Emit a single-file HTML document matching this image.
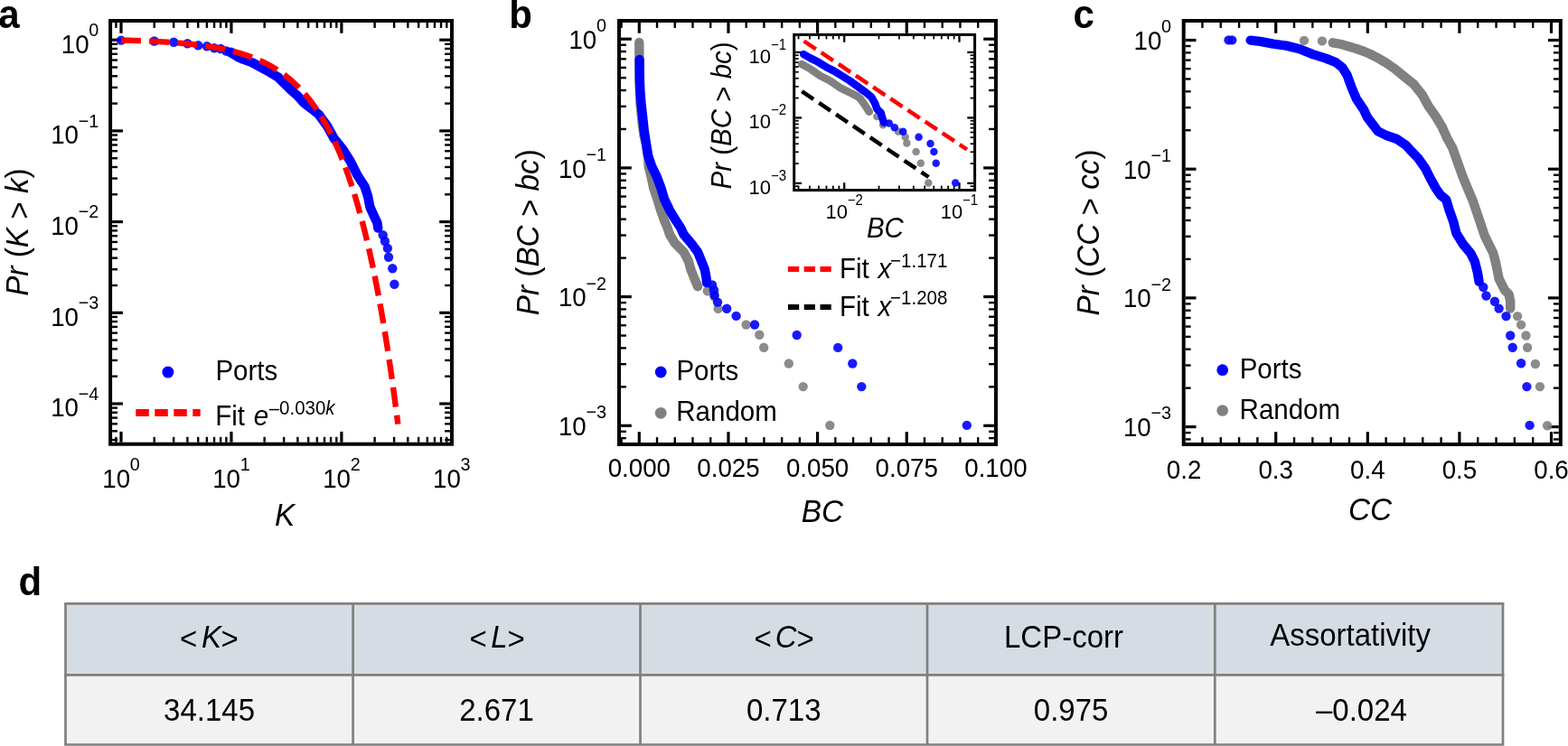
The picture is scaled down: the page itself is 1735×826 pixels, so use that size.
<!DOCTYPE html><html><head><meta charset="utf-8"><style>html,body{margin:0;padding:0;background:#fff;}svg{display:block;}</style></head><body>
<svg width="1735" height="826" viewBox="0 0 1735 826" font-family="'Liberation Sans', Arial, sans-serif">
<rect width="1735" height="826" fill="#fff"/>
<text x="-1.7" y="30.7" transform="matrix(1 0 0 1.041 0 -1.26)" font-size="42" font-weight="bold">a</text>
<text x="563.2" y="30.9" transform="matrix(1 0 0 1.041 0 -1.27)" font-size="42" font-weight="bold">b</text>
<text x="1187.4" y="30.7" transform="matrix(1 0 0 1.041 0 -1.26)" font-size="42" font-weight="bold">c</text>
<text x="20.5" y="659" transform="matrix(1 0 0 1.041 0 -27.02)" font-size="42" font-weight="bold">d</text>
<line x1="128.42" y1="489.7" x2="128.42" y2="483.8" stroke="#000" stroke-width="2.4" />
<line x1="128.42" y1="25" x2="128.42" y2="30.9" stroke="#000" stroke-width="2.4" />
<line x1="170.71" y1="489.7" x2="170.71" y2="483.8" stroke="#000" stroke-width="2.4" />
<line x1="170.71" y1="25" x2="170.71" y2="30.9" stroke="#000" stroke-width="2.4" />
<line x1="192.18" y1="489.7" x2="192.18" y2="483.8" stroke="#000" stroke-width="2.4" />
<line x1="192.18" y1="25" x2="192.18" y2="30.9" stroke="#000" stroke-width="2.4" />
<line x1="207.42" y1="489.7" x2="207.42" y2="483.8" stroke="#000" stroke-width="2.4" />
<line x1="207.42" y1="25" x2="207.42" y2="30.9" stroke="#000" stroke-width="2.4" />
<line x1="219.24" y1="489.7" x2="219.24" y2="483.8" stroke="#000" stroke-width="2.4" />
<line x1="219.24" y1="25" x2="219.24" y2="30.9" stroke="#000" stroke-width="2.4" />
<line x1="228.9" y1="489.7" x2="228.9" y2="483.8" stroke="#000" stroke-width="2.4" />
<line x1="228.9" y1="25" x2="228.9" y2="30.9" stroke="#000" stroke-width="2.4" />
<line x1="237.06" y1="489.7" x2="237.06" y2="483.8" stroke="#000" stroke-width="2.4" />
<line x1="237.06" y1="25" x2="237.06" y2="30.9" stroke="#000" stroke-width="2.4" />
<line x1="244.13" y1="489.7" x2="244.13" y2="483.8" stroke="#000" stroke-width="2.4" />
<line x1="244.13" y1="25" x2="244.13" y2="30.9" stroke="#000" stroke-width="2.4" />
<line x1="250.37" y1="489.7" x2="250.37" y2="483.8" stroke="#000" stroke-width="2.4" />
<line x1="250.37" y1="25" x2="250.37" y2="30.9" stroke="#000" stroke-width="2.4" />
<line x1="292.66" y1="489.7" x2="292.66" y2="483.8" stroke="#000" stroke-width="2.4" />
<line x1="292.66" y1="25" x2="292.66" y2="30.9" stroke="#000" stroke-width="2.4" />
<line x1="314.13" y1="489.7" x2="314.13" y2="483.8" stroke="#000" stroke-width="2.4" />
<line x1="314.13" y1="25" x2="314.13" y2="30.9" stroke="#000" stroke-width="2.4" />
<line x1="329.37" y1="489.7" x2="329.37" y2="483.8" stroke="#000" stroke-width="2.4" />
<line x1="329.37" y1="25" x2="329.37" y2="30.9" stroke="#000" stroke-width="2.4" />
<line x1="341.19" y1="489.7" x2="341.19" y2="483.8" stroke="#000" stroke-width="2.4" />
<line x1="341.19" y1="25" x2="341.19" y2="30.9" stroke="#000" stroke-width="2.4" />
<line x1="350.85" y1="489.7" x2="350.85" y2="483.8" stroke="#000" stroke-width="2.4" />
<line x1="350.85" y1="25" x2="350.85" y2="30.9" stroke="#000" stroke-width="2.4" />
<line x1="359.01" y1="489.7" x2="359.01" y2="483.8" stroke="#000" stroke-width="2.4" />
<line x1="359.01" y1="25" x2="359.01" y2="30.9" stroke="#000" stroke-width="2.4" />
<line x1="366.08" y1="489.7" x2="366.08" y2="483.8" stroke="#000" stroke-width="2.4" />
<line x1="366.08" y1="25" x2="366.08" y2="30.9" stroke="#000" stroke-width="2.4" />
<line x1="372.32" y1="489.7" x2="372.32" y2="483.8" stroke="#000" stroke-width="2.4" />
<line x1="372.32" y1="25" x2="372.32" y2="30.9" stroke="#000" stroke-width="2.4" />
<line x1="414.61" y1="489.7" x2="414.61" y2="483.8" stroke="#000" stroke-width="2.4" />
<line x1="414.61" y1="25" x2="414.61" y2="30.9" stroke="#000" stroke-width="2.4" />
<line x1="436.08" y1="489.7" x2="436.08" y2="483.8" stroke="#000" stroke-width="2.4" />
<line x1="436.08" y1="25" x2="436.08" y2="30.9" stroke="#000" stroke-width="2.4" />
<line x1="451.32" y1="489.7" x2="451.32" y2="483.8" stroke="#000" stroke-width="2.4" />
<line x1="451.32" y1="25" x2="451.32" y2="30.9" stroke="#000" stroke-width="2.4" />
<line x1="463.14" y1="489.7" x2="463.14" y2="483.8" stroke="#000" stroke-width="2.4" />
<line x1="463.14" y1="25" x2="463.14" y2="30.9" stroke="#000" stroke-width="2.4" />
<line x1="472.8" y1="489.7" x2="472.8" y2="483.8" stroke="#000" stroke-width="2.4" />
<line x1="472.8" y1="25" x2="472.8" y2="30.9" stroke="#000" stroke-width="2.4" />
<line x1="480.96" y1="489.7" x2="480.96" y2="483.8" stroke="#000" stroke-width="2.4" />
<line x1="480.96" y1="25" x2="480.96" y2="30.9" stroke="#000" stroke-width="2.4" />
<line x1="488.03" y1="489.7" x2="488.03" y2="483.8" stroke="#000" stroke-width="2.4" />
<line x1="488.03" y1="25" x2="488.03" y2="30.9" stroke="#000" stroke-width="2.4" />
<line x1="494.27" y1="489.7" x2="494.27" y2="483.8" stroke="#000" stroke-width="2.4" />
<line x1="494.27" y1="25" x2="494.27" y2="30.9" stroke="#000" stroke-width="2.4" />
<line x1="134" y1="489.7" x2="134" y2="477.9" stroke="#000" stroke-width="3.2" />
<line x1="134" y1="25" x2="134" y2="36.8" stroke="#000" stroke-width="3.2" />
<line x1="255.95" y1="489.7" x2="255.95" y2="477.9" stroke="#000" stroke-width="3.2" />
<line x1="255.95" y1="25" x2="255.95" y2="36.8" stroke="#000" stroke-width="3.2" />
<line x1="377.9" y1="489.7" x2="377.9" y2="477.9" stroke="#000" stroke-width="3.2" />
<line x1="377.9" y1="25" x2="377.9" y2="36.8" stroke="#000" stroke-width="3.2" />
<line x1="124.1" y1="114.59" x2="130" y2="114.59" stroke="#000" stroke-width="2.4" />
<line x1="498" y1="114.59" x2="492.1" y2="114.59" stroke="#000" stroke-width="2.4" />
<line x1="124.1" y1="96.85" x2="130" y2="96.85" stroke="#000" stroke-width="2.4" />
<line x1="498" y1="96.85" x2="492.1" y2="96.85" stroke="#000" stroke-width="2.4" />
<line x1="124.1" y1="84.27" x2="130" y2="84.27" stroke="#000" stroke-width="2.4" />
<line x1="498" y1="84.27" x2="492.1" y2="84.27" stroke="#000" stroke-width="2.4" />
<line x1="124.1" y1="74.51" x2="130" y2="74.51" stroke="#000" stroke-width="2.4" />
<line x1="498" y1="74.51" x2="492.1" y2="74.51" stroke="#000" stroke-width="2.4" />
<line x1="124.1" y1="66.54" x2="130" y2="66.54" stroke="#000" stroke-width="2.4" />
<line x1="498" y1="66.54" x2="492.1" y2="66.54" stroke="#000" stroke-width="2.4" />
<line x1="124.1" y1="59.8" x2="130" y2="59.8" stroke="#000" stroke-width="2.4" />
<line x1="498" y1="59.8" x2="492.1" y2="59.8" stroke="#000" stroke-width="2.4" />
<line x1="124.1" y1="53.96" x2="130" y2="53.96" stroke="#000" stroke-width="2.4" />
<line x1="498" y1="53.96" x2="492.1" y2="53.96" stroke="#000" stroke-width="2.4" />
<line x1="124.1" y1="48.81" x2="130" y2="48.81" stroke="#000" stroke-width="2.4" />
<line x1="498" y1="48.81" x2="492.1" y2="48.81" stroke="#000" stroke-width="2.4" />
<line x1="124.1" y1="215.29" x2="130" y2="215.29" stroke="#000" stroke-width="2.4" />
<line x1="498" y1="215.29" x2="492.1" y2="215.29" stroke="#000" stroke-width="2.4" />
<line x1="124.1" y1="197.55" x2="130" y2="197.55" stroke="#000" stroke-width="2.4" />
<line x1="498" y1="197.55" x2="492.1" y2="197.55" stroke="#000" stroke-width="2.4" />
<line x1="124.1" y1="184.97" x2="130" y2="184.97" stroke="#000" stroke-width="2.4" />
<line x1="498" y1="184.97" x2="492.1" y2="184.97" stroke="#000" stroke-width="2.4" />
<line x1="124.1" y1="175.21" x2="130" y2="175.21" stroke="#000" stroke-width="2.4" />
<line x1="498" y1="175.21" x2="492.1" y2="175.21" stroke="#000" stroke-width="2.4" />
<line x1="124.1" y1="167.24" x2="130" y2="167.24" stroke="#000" stroke-width="2.4" />
<line x1="498" y1="167.24" x2="492.1" y2="167.24" stroke="#000" stroke-width="2.4" />
<line x1="124.1" y1="160.5" x2="130" y2="160.5" stroke="#000" stroke-width="2.4" />
<line x1="498" y1="160.5" x2="492.1" y2="160.5" stroke="#000" stroke-width="2.4" />
<line x1="124.1" y1="154.66" x2="130" y2="154.66" stroke="#000" stroke-width="2.4" />
<line x1="498" y1="154.66" x2="492.1" y2="154.66" stroke="#000" stroke-width="2.4" />
<line x1="124.1" y1="149.51" x2="130" y2="149.51" stroke="#000" stroke-width="2.4" />
<line x1="498" y1="149.51" x2="492.1" y2="149.51" stroke="#000" stroke-width="2.4" />
<line x1="124.1" y1="315.99" x2="130" y2="315.99" stroke="#000" stroke-width="2.4" />
<line x1="498" y1="315.99" x2="492.1" y2="315.99" stroke="#000" stroke-width="2.4" />
<line x1="124.1" y1="298.25" x2="130" y2="298.25" stroke="#000" stroke-width="2.4" />
<line x1="498" y1="298.25" x2="492.1" y2="298.25" stroke="#000" stroke-width="2.4" />
<line x1="124.1" y1="285.67" x2="130" y2="285.67" stroke="#000" stroke-width="2.4" />
<line x1="498" y1="285.67" x2="492.1" y2="285.67" stroke="#000" stroke-width="2.4" />
<line x1="124.1" y1="275.91" x2="130" y2="275.91" stroke="#000" stroke-width="2.4" />
<line x1="498" y1="275.91" x2="492.1" y2="275.91" stroke="#000" stroke-width="2.4" />
<line x1="124.1" y1="267.94" x2="130" y2="267.94" stroke="#000" stroke-width="2.4" />
<line x1="498" y1="267.94" x2="492.1" y2="267.94" stroke="#000" stroke-width="2.4" />
<line x1="124.1" y1="261.2" x2="130" y2="261.2" stroke="#000" stroke-width="2.4" />
<line x1="498" y1="261.2" x2="492.1" y2="261.2" stroke="#000" stroke-width="2.4" />
<line x1="124.1" y1="255.36" x2="130" y2="255.36" stroke="#000" stroke-width="2.4" />
<line x1="498" y1="255.36" x2="492.1" y2="255.36" stroke="#000" stroke-width="2.4" />
<line x1="124.1" y1="250.21" x2="130" y2="250.21" stroke="#000" stroke-width="2.4" />
<line x1="498" y1="250.21" x2="492.1" y2="250.21" stroke="#000" stroke-width="2.4" />
<line x1="124.1" y1="416.69" x2="130" y2="416.69" stroke="#000" stroke-width="2.4" />
<line x1="498" y1="416.69" x2="492.1" y2="416.69" stroke="#000" stroke-width="2.4" />
<line x1="124.1" y1="398.95" x2="130" y2="398.95" stroke="#000" stroke-width="2.4" />
<line x1="498" y1="398.95" x2="492.1" y2="398.95" stroke="#000" stroke-width="2.4" />
<line x1="124.1" y1="386.37" x2="130" y2="386.37" stroke="#000" stroke-width="2.4" />
<line x1="498" y1="386.37" x2="492.1" y2="386.37" stroke="#000" stroke-width="2.4" />
<line x1="124.1" y1="376.61" x2="130" y2="376.61" stroke="#000" stroke-width="2.4" />
<line x1="498" y1="376.61" x2="492.1" y2="376.61" stroke="#000" stroke-width="2.4" />
<line x1="124.1" y1="368.64" x2="130" y2="368.64" stroke="#000" stroke-width="2.4" />
<line x1="498" y1="368.64" x2="492.1" y2="368.64" stroke="#000" stroke-width="2.4" />
<line x1="124.1" y1="361.9" x2="130" y2="361.9" stroke="#000" stroke-width="2.4" />
<line x1="498" y1="361.9" x2="492.1" y2="361.9" stroke="#000" stroke-width="2.4" />
<line x1="124.1" y1="356.06" x2="130" y2="356.06" stroke="#000" stroke-width="2.4" />
<line x1="498" y1="356.06" x2="492.1" y2="356.06" stroke="#000" stroke-width="2.4" />
<line x1="124.1" y1="350.91" x2="130" y2="350.91" stroke="#000" stroke-width="2.4" />
<line x1="498" y1="350.91" x2="492.1" y2="350.91" stroke="#000" stroke-width="2.4" />
<line x1="124.1" y1="487.07" x2="130" y2="487.07" stroke="#000" stroke-width="2.4" />
<line x1="498" y1="487.07" x2="492.1" y2="487.07" stroke="#000" stroke-width="2.4" />
<line x1="124.1" y1="477.31" x2="130" y2="477.31" stroke="#000" stroke-width="2.4" />
<line x1="498" y1="477.31" x2="492.1" y2="477.31" stroke="#000" stroke-width="2.4" />
<line x1="124.1" y1="469.34" x2="130" y2="469.34" stroke="#000" stroke-width="2.4" />
<line x1="498" y1="469.34" x2="492.1" y2="469.34" stroke="#000" stroke-width="2.4" />
<line x1="124.1" y1="462.6" x2="130" y2="462.6" stroke="#000" stroke-width="2.4" />
<line x1="498" y1="462.6" x2="492.1" y2="462.6" stroke="#000" stroke-width="2.4" />
<line x1="124.1" y1="456.76" x2="130" y2="456.76" stroke="#000" stroke-width="2.4" />
<line x1="498" y1="456.76" x2="492.1" y2="456.76" stroke="#000" stroke-width="2.4" />
<line x1="124.1" y1="451.61" x2="130" y2="451.61" stroke="#000" stroke-width="2.4" />
<line x1="498" y1="451.61" x2="492.1" y2="451.61" stroke="#000" stroke-width="2.4" />
<line x1="124.1" y1="44.2" x2="135.9" y2="44.2" stroke="#000" stroke-width="3.2" />
<line x1="498" y1="44.2" x2="486.2" y2="44.2" stroke="#000" stroke-width="3.2" />
<line x1="124.1" y1="144.9" x2="135.9" y2="144.9" stroke="#000" stroke-width="3.2" />
<line x1="498" y1="144.9" x2="486.2" y2="144.9" stroke="#000" stroke-width="3.2" />
<line x1="124.1" y1="245.6" x2="135.9" y2="245.6" stroke="#000" stroke-width="3.2" />
<line x1="498" y1="245.6" x2="486.2" y2="245.6" stroke="#000" stroke-width="3.2" />
<line x1="124.1" y1="346.3" x2="135.9" y2="346.3" stroke="#000" stroke-width="3.2" />
<line x1="498" y1="346.3" x2="486.2" y2="346.3" stroke="#000" stroke-width="3.2" />
<line x1="124.1" y1="447" x2="135.9" y2="447" stroke="#000" stroke-width="3.2" />
<line x1="498" y1="447" x2="486.2" y2="447" stroke="#000" stroke-width="3.2" />
<circle cx="134" cy="44.6" r="5.2" fill="#0000ff" fill-opacity="0.9"/>
<circle cx="170.71" cy="45.5" r="5.2" fill="#0000ff" fill-opacity="0.9"/>
<circle cx="192.18" cy="46.7" r="5.2" fill="#0000ff" fill-opacity="0.9"/>
<circle cx="207.42" cy="48.2" r="5.2" fill="#0000ff" fill-opacity="0.9"/>
<circle cx="219.24" cy="50.3" r="5.2" fill="#0000ff" fill-opacity="0.9"/>
<circle cx="228.9" cy="51.3" r="5.2" fill="#0000ff" fill-opacity="0.9"/>
<circle cx="237.06" cy="53.2" r="5.2" fill="#0000ff" fill-opacity="0.9"/>
<circle cx="244.13" cy="54" r="5.2" fill="#0000ff" fill-opacity="0.9"/>
<circle cx="250.37" cy="56.5" r="5.2" fill="#0000ff" fill-opacity="0.9"/>
<circle cx="255.95" cy="57.7" r="5.2" fill="#0000ff" fill-opacity="0.9"/>
<polyline points="254.5,57.9 259,60.3 263,62.9 269.1,65.7 278.8,69.1 288.4,74.4 298.1,79.7 307.8,85.5 315.6,93.3 322.4,100.1 329.1,105.9 335,112.7 339.5,116.5 346,121.5 352.6,126.6 362.3,139.9 369.6,153.2 379.3,165.3 387.7,178.6 395,193.2 403.5,206.5 407.1,217.4 409.5,229.5 414.4,240.4 417.4,246.5 418.3,252.5" fill="none" stroke="#0000ff" stroke-width="10.4" stroke-linecap="round" stroke-linejoin="round"/>
<circle cx="423.7" cy="260.2" r="5.2" fill="#0000ff" fill-opacity="0.9"/>
<circle cx="425.9" cy="267" r="5.2" fill="#0000ff" fill-opacity="0.9"/>
<circle cx="428.9" cy="274.9" r="5.2" fill="#0000ff" fill-opacity="0.9"/>
<circle cx="430" cy="284.7" r="5.2" fill="#0000ff" fill-opacity="0.9"/>
<circle cx="434.3" cy="297.2" r="5.2" fill="#0000ff" fill-opacity="0.9"/>
<circle cx="436.4" cy="314.7" r="5.2" fill="#0000ff" fill-opacity="0.9"/>
<path d="M134,44.51 L134.53,44.53 L135.05,44.54 L135.58,44.55 L136.11,44.57 L136.63,44.58 L137.16,44.59 L137.69,44.61 L138.22,44.62 L138.74,44.63 L139.27,44.65 L139.8,44.66 L140.32,44.68 L140.85,44.69 L141.38,44.71 L141.9,44.72 L142.43,44.74 L142.96,44.75 L143.49,44.77 L144.01,44.79 L144.54,44.8 L145.07,44.82 L145.59,44.83 L146.12,44.85 L146.65,44.87 L147.17,44.88 L147.7,44.9 L148.23,44.92 L148.76,44.93 L149.28,44.95 L149.81,44.97 L150.34,44.99 L150.86,45 L151.39,45.02 L151.92,45.04 L152.44,45.06 L152.97,45.08 L153.5,45.1 L154.03,45.11 L154.55,45.13 L155.08,45.15 L155.61,45.17 L156.13,45.19 L156.66,45.21 L157.19,45.23 L157.71,45.25 L158.24,45.27 L158.77,45.29 L159.3,45.32 L159.82,45.34 L160.35,45.36 L160.88,45.38 L161.4,45.4 L161.93,45.42 L162.46,45.45 L162.98,45.47 L163.51,45.49 L164.04,45.51 L164.57,45.54 L165.09,45.56 L165.62,45.58 L166.15,45.61 L166.67,45.63 L167.2,45.66 L167.73,45.68 L168.25,45.71 L168.78,45.73 L169.31,45.76 L169.84,45.78 L170.36,45.81 L170.89,45.83 L171.42,45.86 L171.94,45.89 L172.47,45.91 L173,45.94 L173.52,45.97 L174.05,45.99 L174.58,46.02 L175.11,46.05 L175.63,46.08 L176.16,46.11 L176.69,46.14 L177.21,46.17 L177.74,46.2 L178.27,46.23 L178.79,46.26 L179.32,46.29 L179.85,46.32 L180.38,46.35 L180.9,46.38 L181.43,46.41 L181.96,46.44 L182.48,46.48 L183.01,46.51 L183.54,46.54 L184.06,46.58 L184.59,46.61 L185.12,46.64 L185.65,46.68 L186.17,46.71 L186.7,46.75 L187.23,46.78 L187.75,46.82 L188.28,46.86 L188.81,46.89 L189.33,46.93 L189.86,46.97 L190.39,47 L190.92,47.04 L191.44,47.08 L191.97,47.12 L192.5,47.16 L193.02,47.2 L193.55,47.24 L194.08,47.28 L194.6,47.32 L195.13,47.36 L195.66,47.4 L196.19,47.44 L196.71,47.49 L197.24,47.53 L197.77,47.57 L198.29,47.62 L198.82,47.66 L199.35,47.71 L199.87,47.75 L200.4,47.8 L200.93,47.84 L201.45,47.89 L201.98,47.94 L202.51,47.98 L203.04,48.03 L203.56,48.08 L204.09,48.13 L204.62,48.18 L205.14,48.23 L205.67,48.28 L206.2,48.33 L206.72,48.38 L207.25,48.43 L207.78,48.48 L208.31,48.54 L208.83,48.59 L209.36,48.64 L209.89,48.7 L210.41,48.75 L210.94,48.81 L211.47,48.86 L211.99,48.92 L212.52,48.98 L213.05,49.04 L213.58,49.09 L214.1,49.15 L214.63,49.21 L215.16,49.27 L215.68,49.33 L216.21,49.4 L216.74,49.46 L217.26,49.52 L217.79,49.58 L218.32,49.65 L218.85,49.71 L219.37,49.78 L219.9,49.84 L220.43,49.91 L220.95,49.98 L221.48,50.04 L222.01,50.11 L222.53,50.18 L223.06,50.25 L223.59,50.32 L224.12,50.39 L224.64,50.46 L225.17,50.54 L225.7,50.61 L226.22,50.68 L226.75,50.76 L227.28,50.84 L227.8,50.91 L228.33,50.99 L228.86,51.07 L229.39,51.15 L229.91,51.22 L230.44,51.3 L230.97,51.39 L231.49,51.47 L232.02,51.55 L232.55,51.63 L233.07,51.72 L233.6,51.8 L234.13,51.89 L234.66,51.98 L235.18,52.06 L235.71,52.15 L236.24,52.24 L236.76,52.33 L237.29,52.42 L237.82,52.52 L238.34,52.61 L238.87,52.7 L239.4,52.8 L239.93,52.89 L240.45,52.99 L240.98,53.09 L241.51,53.19 L242.03,53.29 L242.56,53.39 L243.09,53.49 L243.61,53.59 L244.14,53.7 L244.67,53.8 L245.2,53.91 L245.72,54.02 L246.25,54.12 L246.78,54.23 L247.3,54.34 L247.83,54.46 L248.36,54.57 L248.88,54.68 L249.41,54.8 L249.94,54.91 L250.47,55.03 L250.99,55.15 L251.52,55.27 L252.05,55.39 L252.57,55.51 L253.1,55.63 L253.63,55.76 L254.15,55.88 L254.68,56.01 L255.21,56.14 L255.74,56.27 L256.26,56.4 L256.79,56.53 L257.32,56.66 L257.84,56.8 L258.37,56.93 L258.9,57.07 L259.42,57.21 L259.95,57.35 L260.48,57.49 L261,57.63 L261.53,57.78 L262.06,57.92 L262.59,58.07 L263.11,58.22 L263.64,58.37 L264.17,58.52 L264.69,58.68 L265.22,58.83 L265.75,58.99 L266.27,59.14 L266.8,59.3 L267.33,59.46 L267.86,59.63 L268.38,59.79 L268.91,59.96 L269.44,60.12 L269.96,60.29 L270.49,60.47 L271.02,60.64 L271.54,60.81 L272.07,60.99 L272.6,61.17 L273.13,61.35 L273.65,61.53 L274.18,61.71 L274.71,61.9 L275.23,62.08 L275.76,62.27 L276.29,62.46 L276.81,62.65 L277.34,62.85 L277.87,63.05 L278.4,63.24 L278.92,63.44 L279.45,63.65 L279.98,63.85 L280.5,64.06 L281.03,64.27 L281.56,64.48 L282.08,64.69 L282.61,64.91 L283.14,65.12 L283.67,65.34 L284.19,65.56 L284.72,65.79 L285.25,66.01 L285.77,66.24 L286.3,66.47 L286.83,66.7 L287.35,66.94 L287.88,67.18 L288.41,67.42 L288.94,67.66 L289.46,67.9 L289.99,68.15 L290.52,68.4 L291.04,68.65 L291.57,68.91 L292.1,69.16 L292.62,69.42 L293.15,69.68 L293.68,69.95 L294.21,70.22 L294.73,70.49 L295.26,70.76 L295.79,71.04 L296.31,71.31 L296.84,71.59 L297.37,71.88 L297.89,72.17 L298.42,72.46 L298.95,72.75 L299.48,73.04 L300,73.34 L300.53,73.64 L301.06,73.95 L301.58,74.26 L302.11,74.57 L302.64,74.88 L303.16,75.2 L303.69,75.52 L304.22,75.84 L304.75,76.17 L305.27,76.5 L305.8,76.83 L306.33,77.16 L306.85,77.5 L307.38,77.85 L307.91,78.19 L308.43,78.54 L308.96,78.9 L309.49,79.25 L310.02,79.61 L310.54,79.98 L311.07,80.35 L311.6,80.72 L312.12,81.09 L312.65,81.47 L313.18,81.85 L313.7,82.24 L314.23,82.63 L314.76,83.03 L315.29,83.42 L315.81,83.83 L316.34,84.23 L316.87,84.64 L317.39,85.06 L317.92,85.48 L318.45,85.9 L318.97,86.33 L319.5,86.76 L320.03,87.19 L320.56,87.63 L321.08,88.08 L321.61,88.53 L322.14,88.98 L322.66,89.44 L323.19,89.9 L323.72,90.37 L324.24,90.84 L324.77,91.31 L325.3,91.8 L325.82,92.28 L326.35,92.77 L326.88,93.27 L327.41,93.77 L327.93,94.27 L328.46,94.78 L328.99,95.3 L329.51,95.82 L330.04,96.35 L330.57,96.88 L331.09,97.42 L331.62,97.96 L332.15,98.51 L332.68,99.06 L333.2,99.62 L333.73,100.18 L334.26,100.75 L334.78,101.33 L335.31,101.91 L335.84,102.5 L336.36,103.09 L336.89,103.69 L337.42,104.29 L337.95,104.9 L338.47,105.52 L339,106.14 L339.53,106.77 L340.05,107.41 L340.58,108.05 L341.11,108.7 L341.63,109.35 L342.16,110.02 L342.69,110.68 L343.22,111.36 L343.74,112.04 L344.27,112.73 L344.8,113.42 L345.32,114.13 L345.85,114.84 L346.38,115.55 L346.9,116.28 L347.43,117.01 L347.96,117.74 L348.49,118.49 L349.01,119.24 L349.54,120 L350.07,120.77 L350.59,121.55 L351.12,122.33 L351.65,123.12 L352.17,123.92 L352.7,124.73 L353.23,125.54 L353.76,126.37 L354.28,127.2 L354.81,128.04 L355.34,128.89 L355.86,129.74 L356.39,130.61 L356.92,131.48 L357.44,132.37 L357.97,133.26 L358.5,134.16 L359.03,135.07 L359.55,135.99 L360.08,136.91 L360.61,137.85 L361.13,138.8 L361.66,139.75 L362.19,140.72 L362.71,141.69 L363.24,142.68 L363.77,143.67 L364.3,144.68 L364.82,145.69 L365.35,146.72 L365.88,147.75 L366.4,148.8 L366.93,149.86 L367.46,150.92 L367.98,152 L368.51,153.09 L369.04,154.19 L369.57,155.3 L370.09,156.42 L370.62,157.55 L371.15,158.69 L371.67,159.85 L372.2,161.01 L372.73,162.19 L373.25,163.38 L373.78,164.58 L374.31,165.8 L374.84,167.02 L375.36,168.26 L375.89,169.51 L376.42,170.78 L376.94,172.05 L377.47,173.34 L378,174.64 L378.52,175.96 L379.05,177.28 L379.58,178.62 L380.11,179.98 L380.63,181.35 L381.16,182.73 L381.69,184.12 L382.21,185.53 L382.74,186.96 L383.27,188.39 L383.79,189.84 L384.32,191.31 L384.85,192.79 L385.37,194.29 L385.9,195.8 L386.43,197.32 L386.96,198.87 L387.48,200.42 L388.01,202 L388.54,203.58 L389.06,205.19 L389.59,206.81 L390.12,208.44 L390.64,210.1 L391.17,211.76 L391.7,213.45 L392.23,215.15 L392.75,216.87 L393.28,218.61 L393.81,220.36 L394.33,222.13 L394.86,223.92 L395.39,225.73 L395.91,227.56 L396.44,229.4 L396.97,231.26 L397.5,233.14 L398.02,235.04 L398.55,236.96 L399.08,238.9 L399.6,240.85 L400.13,242.83 L400.66,244.83 L401.18,246.84 L401.71,248.88 L402.24,250.94 L402.77,253.01 L403.29,255.11 L403.82,257.23 L404.35,259.37 L404.87,261.53 L405.4,263.72 L405.93,265.92 L406.45,268.15 L406.98,270.4 L407.51,272.67 L408.04,274.97 L408.56,277.28 L409.09,279.62 L409.62,281.99 L410.14,284.38 L410.67,286.79 L411.2,289.22 L411.72,291.68 L412.25,294.17 L412.78,296.68 L413.31,299.21 L413.83,301.77 L414.36,304.36 L414.89,306.97 L415.41,309.61 L415.94,312.27 L416.47,314.96 L416.99,317.68 L417.52,320.43 L418.05,323.2 L418.58,326 L419.1,328.83 L419.63,331.68 L420.16,334.57 L420.68,337.48 L421.21,340.42 L421.74,343.4 L422.26,346.4 L422.79,349.43 L423.32,352.49 L423.85,355.59 L424.37,358.71 L424.9,361.86 L425.43,365.05 L425.95,368.27 L426.48,371.52 L427.01,374.8 L427.53,378.12 L428.06,381.47 L428.59,384.85 L429.12,388.27 L429.64,391.72 L430.17,395.2 L430.7,398.72 L431.22,402.28 L431.75,405.87 L432.28,409.5 L432.8,413.16 L433.33,416.86 L433.86,420.6 L434.39,424.37 L434.91,428.18 L435.44,432.03 L435.97,435.92 L436.49,439.85 L437.02,443.81 L437.55,447.82 L438.07,451.87 L438.6,455.95 L439.13,460.08 L439.66,464.25 L440.18,468.46 L440.32,469.6" fill="none" stroke="#ff0000" stroke-width="6.4" stroke-dasharray="22 9.2"/>
<rect x="122.1" y="23" width="377.9" height="468.7" fill="none" stroke="#000" stroke-width="4" stroke-linejoin="miter"/>
<text x="109.3" y="58.7" transform="matrix(1 0 0 1.041 0 -2.41)" text-anchor="end" font-size="27.7">10<tspan dx="-0.3" dy="-18.06" font-size="19.8">0</tspan></text>
<text x="109.3" y="159.4" transform="matrix(1 0 0 1.041 0 -6.54)" text-anchor="end" font-size="27.7">10<tspan dx="-0.3" dy="-18.06" font-size="19.8">−1</tspan></text>
<text x="109.3" y="260.1" transform="matrix(1 0 0 1.041 0 -10.66)" text-anchor="end" font-size="27.7">10<tspan dx="-0.3" dy="-18.06" font-size="19.8">−2</tspan></text>
<text x="109.3" y="360.8" transform="matrix(1 0 0 1.041 0 -14.79)" text-anchor="end" font-size="27.7">10<tspan dx="-0.3" dy="-18.06" font-size="19.8">−3</tspan></text>
<text x="109.3" y="461.5" transform="matrix(1 0 0 1.041 0 -18.92)" text-anchor="end" font-size="27.7">10<tspan dx="-0.3" dy="-18.06" font-size="19.8">−4</tspan></text>
<text x="134" y="539.7" transform="matrix(1 0 0 1.041 0 -22.13)" text-anchor="middle" font-size="27.7">10<tspan dx="-0.3" dy="-18.06" font-size="19.8">0</tspan></text>
<text x="255.95" y="539.7" transform="matrix(1 0 0 1.041 0 -22.13)" text-anchor="middle" font-size="27.7">10<tspan dx="-0.3" dy="-18.06" font-size="19.8">1</tspan></text>
<text x="377.9" y="539.7" transform="matrix(1 0 0 1.041 0 -22.13)" text-anchor="middle" font-size="27.7">10<tspan dx="-0.3" dy="-18.06" font-size="19.8">2</tspan></text>
<text x="499.85" y="539.7" transform="matrix(1 0 0 1.041 0 -22.13)" text-anchor="middle" font-size="27.7">10<tspan dx="-0.3" dy="-18.06" font-size="19.8">3</tspan></text>
<text x="315" y="582" transform="matrix(1 0 0 1.041 0 -23.86)" text-anchor="middle" font-size="33.3" font-style="italic">K</text>
<text transform="translate(31,257.1) rotate(-90) scale(1,1.041)" text-anchor="middle" font-size="33.3"><tspan font-style="italic">Pr</tspan> (<tspan font-style="italic">K</tspan> <tspan dy="1.92">&gt;</tspan> <tspan dy="-1.92" font-style="italic">k</tspan>)</text>
<circle cx="185.9" cy="412.1" r="6.5" fill="#0000ff"/>
<text x="238.4" y="421" transform="matrix(1 0 0 1.041 0 -17.26)" font-size="29.5">Ports</text>
<line x1="150.3" y1="457" x2="221.7" y2="457" stroke="#ff0000" stroke-width="8" stroke-dasharray="14.5 6.5"/>
<text x="238.3" y="471.5" transform="matrix(1 0 0 1.041 0 -19.33)" font-size="29.5">Fit <tspan dx="1.5" font-style="italic">e</tspan><tspan dx="0.5" dy="-12.2" font-size="20.5">–</tspan><tspan font-size="20.5">0.030</tspan><tspan font-size="20.5" font-style="italic">k</tspan></text>
<line x1="687.57" y1="490" x2="687.57" y2="484.1" stroke="#000" stroke-width="2.4" />
<line x1="687.57" y1="25" x2="687.57" y2="30.9" stroke="#000" stroke-width="2.4" />
<line x1="727.03" y1="490" x2="727.03" y2="484.1" stroke="#000" stroke-width="2.4" />
<line x1="727.03" y1="25" x2="727.03" y2="30.9" stroke="#000" stroke-width="2.4" />
<line x1="746.76" y1="490" x2="746.76" y2="484.1" stroke="#000" stroke-width="2.4" />
<line x1="746.76" y1="25" x2="746.76" y2="30.9" stroke="#000" stroke-width="2.4" />
<line x1="766.49" y1="490" x2="766.49" y2="484.1" stroke="#000" stroke-width="2.4" />
<line x1="766.49" y1="25" x2="766.49" y2="30.9" stroke="#000" stroke-width="2.4" />
<line x1="786.22" y1="490" x2="786.22" y2="484.1" stroke="#000" stroke-width="2.4" />
<line x1="786.22" y1="25" x2="786.22" y2="30.9" stroke="#000" stroke-width="2.4" />
<line x1="825.68" y1="490" x2="825.68" y2="484.1" stroke="#000" stroke-width="2.4" />
<line x1="825.68" y1="25" x2="825.68" y2="30.9" stroke="#000" stroke-width="2.4" />
<line x1="845.41" y1="490" x2="845.41" y2="484.1" stroke="#000" stroke-width="2.4" />
<line x1="845.41" y1="25" x2="845.41" y2="30.9" stroke="#000" stroke-width="2.4" />
<line x1="865.14" y1="490" x2="865.14" y2="484.1" stroke="#000" stroke-width="2.4" />
<line x1="865.14" y1="25" x2="865.14" y2="30.9" stroke="#000" stroke-width="2.4" />
<line x1="884.87" y1="490" x2="884.87" y2="484.1" stroke="#000" stroke-width="2.4" />
<line x1="884.87" y1="25" x2="884.87" y2="30.9" stroke="#000" stroke-width="2.4" />
<line x1="924.33" y1="490" x2="924.33" y2="484.1" stroke="#000" stroke-width="2.4" />
<line x1="924.33" y1="25" x2="924.33" y2="30.9" stroke="#000" stroke-width="2.4" />
<line x1="944.06" y1="490" x2="944.06" y2="484.1" stroke="#000" stroke-width="2.4" />
<line x1="944.06" y1="25" x2="944.06" y2="30.9" stroke="#000" stroke-width="2.4" />
<line x1="963.79" y1="490" x2="963.79" y2="484.1" stroke="#000" stroke-width="2.4" />
<line x1="963.79" y1="25" x2="963.79" y2="30.9" stroke="#000" stroke-width="2.4" />
<line x1="983.52" y1="490" x2="983.52" y2="484.1" stroke="#000" stroke-width="2.4" />
<line x1="983.52" y1="25" x2="983.52" y2="30.9" stroke="#000" stroke-width="2.4" />
<line x1="1022.98" y1="490" x2="1022.98" y2="484.1" stroke="#000" stroke-width="2.4" />
<line x1="1022.98" y1="25" x2="1022.98" y2="30.9" stroke="#000" stroke-width="2.4" />
<line x1="1042.71" y1="490" x2="1042.71" y2="484.1" stroke="#000" stroke-width="2.4" />
<line x1="1042.71" y1="25" x2="1042.71" y2="30.9" stroke="#000" stroke-width="2.4" />
<line x1="1062.44" y1="490" x2="1062.44" y2="484.1" stroke="#000" stroke-width="2.4" />
<line x1="1062.44" y1="25" x2="1062.44" y2="30.9" stroke="#000" stroke-width="2.4" />
<line x1="1082.17" y1="490" x2="1082.17" y2="484.1" stroke="#000" stroke-width="2.4" />
<line x1="1082.17" y1="25" x2="1082.17" y2="30.9" stroke="#000" stroke-width="2.4" />
<line x1="707.3" y1="490" x2="707.3" y2="478.2" stroke="#000" stroke-width="3.2" />
<line x1="707.3" y1="25" x2="707.3" y2="36.8" stroke="#000" stroke-width="3.2" />
<line x1="805.95" y1="490" x2="805.95" y2="478.2" stroke="#000" stroke-width="3.2" />
<line x1="805.95" y1="25" x2="805.95" y2="36.8" stroke="#000" stroke-width="3.2" />
<line x1="904.6" y1="490" x2="904.6" y2="478.2" stroke="#000" stroke-width="3.2" />
<line x1="904.6" y1="25" x2="904.6" y2="36.8" stroke="#000" stroke-width="3.2" />
<line x1="1003.25" y1="490" x2="1003.25" y2="478.2" stroke="#000" stroke-width="3.2" />
<line x1="1003.25" y1="25" x2="1003.25" y2="36.8" stroke="#000" stroke-width="3.2" />
<line x1="687" y1="142.94" x2="692.9" y2="142.94" stroke="#000" stroke-width="2.4" />
<line x1="1100" y1="142.94" x2="1094.1" y2="142.94" stroke="#000" stroke-width="2.4" />
<line x1="687" y1="117.81" x2="692.9" y2="117.81" stroke="#000" stroke-width="2.4" />
<line x1="1100" y1="117.81" x2="1094.1" y2="117.81" stroke="#000" stroke-width="2.4" />
<line x1="687" y1="99.99" x2="692.9" y2="99.99" stroke="#000" stroke-width="2.4" />
<line x1="1100" y1="99.99" x2="1094.1" y2="99.99" stroke="#000" stroke-width="2.4" />
<line x1="687" y1="86.16" x2="692.9" y2="86.16" stroke="#000" stroke-width="2.4" />
<line x1="1100" y1="86.16" x2="1094.1" y2="86.16" stroke="#000" stroke-width="2.4" />
<line x1="687" y1="74.86" x2="692.9" y2="74.86" stroke="#000" stroke-width="2.4" />
<line x1="1100" y1="74.86" x2="1094.1" y2="74.86" stroke="#000" stroke-width="2.4" />
<line x1="687" y1="65.3" x2="692.9" y2="65.3" stroke="#000" stroke-width="2.4" />
<line x1="1100" y1="65.3" x2="1094.1" y2="65.3" stroke="#000" stroke-width="2.4" />
<line x1="687" y1="57.03" x2="692.9" y2="57.03" stroke="#000" stroke-width="2.4" />
<line x1="1100" y1="57.03" x2="1094.1" y2="57.03" stroke="#000" stroke-width="2.4" />
<line x1="687" y1="49.73" x2="692.9" y2="49.73" stroke="#000" stroke-width="2.4" />
<line x1="1100" y1="49.73" x2="1094.1" y2="49.73" stroke="#000" stroke-width="2.4" />
<line x1="687" y1="285.64" x2="692.9" y2="285.64" stroke="#000" stroke-width="2.4" />
<line x1="1100" y1="285.64" x2="1094.1" y2="285.64" stroke="#000" stroke-width="2.4" />
<line x1="687" y1="260.51" x2="692.9" y2="260.51" stroke="#000" stroke-width="2.4" />
<line x1="1100" y1="260.51" x2="1094.1" y2="260.51" stroke="#000" stroke-width="2.4" />
<line x1="687" y1="242.69" x2="692.9" y2="242.69" stroke="#000" stroke-width="2.4" />
<line x1="1100" y1="242.69" x2="1094.1" y2="242.69" stroke="#000" stroke-width="2.4" />
<line x1="687" y1="228.86" x2="692.9" y2="228.86" stroke="#000" stroke-width="2.4" />
<line x1="1100" y1="228.86" x2="1094.1" y2="228.86" stroke="#000" stroke-width="2.4" />
<line x1="687" y1="217.56" x2="692.9" y2="217.56" stroke="#000" stroke-width="2.4" />
<line x1="1100" y1="217.56" x2="1094.1" y2="217.56" stroke="#000" stroke-width="2.4" />
<line x1="687" y1="208" x2="692.9" y2="208" stroke="#000" stroke-width="2.4" />
<line x1="1100" y1="208" x2="1094.1" y2="208" stroke="#000" stroke-width="2.4" />
<line x1="687" y1="199.73" x2="692.9" y2="199.73" stroke="#000" stroke-width="2.4" />
<line x1="1100" y1="199.73" x2="1094.1" y2="199.73" stroke="#000" stroke-width="2.4" />
<line x1="687" y1="192.43" x2="692.9" y2="192.43" stroke="#000" stroke-width="2.4" />
<line x1="1100" y1="192.43" x2="1094.1" y2="192.43" stroke="#000" stroke-width="2.4" />
<line x1="687" y1="428.34" x2="692.9" y2="428.34" stroke="#000" stroke-width="2.4" />
<line x1="1100" y1="428.34" x2="1094.1" y2="428.34" stroke="#000" stroke-width="2.4" />
<line x1="687" y1="403.21" x2="692.9" y2="403.21" stroke="#000" stroke-width="2.4" />
<line x1="1100" y1="403.21" x2="1094.1" y2="403.21" stroke="#000" stroke-width="2.4" />
<line x1="687" y1="385.39" x2="692.9" y2="385.39" stroke="#000" stroke-width="2.4" />
<line x1="1100" y1="385.39" x2="1094.1" y2="385.39" stroke="#000" stroke-width="2.4" />
<line x1="687" y1="371.56" x2="692.9" y2="371.56" stroke="#000" stroke-width="2.4" />
<line x1="1100" y1="371.56" x2="1094.1" y2="371.56" stroke="#000" stroke-width="2.4" />
<line x1="687" y1="360.26" x2="692.9" y2="360.26" stroke="#000" stroke-width="2.4" />
<line x1="1100" y1="360.26" x2="1094.1" y2="360.26" stroke="#000" stroke-width="2.4" />
<line x1="687" y1="350.7" x2="692.9" y2="350.7" stroke="#000" stroke-width="2.4" />
<line x1="1100" y1="350.7" x2="1094.1" y2="350.7" stroke="#000" stroke-width="2.4" />
<line x1="687" y1="342.43" x2="692.9" y2="342.43" stroke="#000" stroke-width="2.4" />
<line x1="1100" y1="342.43" x2="1094.1" y2="342.43" stroke="#000" stroke-width="2.4" />
<line x1="687" y1="335.13" x2="692.9" y2="335.13" stroke="#000" stroke-width="2.4" />
<line x1="1100" y1="335.13" x2="1094.1" y2="335.13" stroke="#000" stroke-width="2.4" />
<line x1="687" y1="485.13" x2="692.9" y2="485.13" stroke="#000" stroke-width="2.4" />
<line x1="1100" y1="485.13" x2="1094.1" y2="485.13" stroke="#000" stroke-width="2.4" />
<line x1="687" y1="477.83" x2="692.9" y2="477.83" stroke="#000" stroke-width="2.4" />
<line x1="1100" y1="477.83" x2="1094.1" y2="477.83" stroke="#000" stroke-width="2.4" />
<line x1="687" y1="43.2" x2="698.8" y2="43.2" stroke="#000" stroke-width="3.2" />
<line x1="1100" y1="43.2" x2="1088.2" y2="43.2" stroke="#000" stroke-width="3.2" />
<line x1="687" y1="185.9" x2="698.8" y2="185.9" stroke="#000" stroke-width="3.2" />
<line x1="1100" y1="185.9" x2="1088.2" y2="185.9" stroke="#000" stroke-width="3.2" />
<line x1="687" y1="328.6" x2="698.8" y2="328.6" stroke="#000" stroke-width="3.2" />
<line x1="1100" y1="328.6" x2="1088.2" y2="328.6" stroke="#000" stroke-width="3.2" />
<line x1="687" y1="471.3" x2="698.8" y2="471.3" stroke="#000" stroke-width="3.2" />
<line x1="1100" y1="471.3" x2="1088.2" y2="471.3" stroke="#000" stroke-width="3.2" />
<polyline points="707.3,47 707.5,90 708.5,115 710.5,135 712.5,150 715.1,160 717,172 717.7,184.2 720.7,196.3 723.2,208.4 727.4,220.5 731,232.6 735.3,244.7 738.5,252 741,259.7 747,269.4 756.6,279.1 761.7,288.7 764.4,298.4 768.2,308.1 772.1,317.3" fill="none" stroke="#808080" stroke-width="10.4" stroke-linecap="round" stroke-linejoin="round"/>
<circle cx="782.8" cy="322.2" r="5.2" fill="#808080" fill-opacity="0.9"/>
<circle cx="790.6" cy="328.6" r="5.2" fill="#808080" fill-opacity="0.9"/>
<circle cx="794.6" cy="341.9" r="5.2" fill="#808080" fill-opacity="0.9"/>
<circle cx="825.6" cy="359.5" r="5.2" fill="#808080" fill-opacity="0.9"/>
<circle cx="840.3" cy="370.8" r="5.2" fill="#808080" fill-opacity="0.9"/>
<circle cx="845.2" cy="384.8" r="5.2" fill="#808080" fill-opacity="0.9"/>
<circle cx="872.8" cy="402.5" r="5.2" fill="#808080" fill-opacity="0.9"/>
<circle cx="888.7" cy="428.1" r="5.2" fill="#808080" fill-opacity="0.9"/>
<circle cx="918.3" cy="471" r="5.2" fill="#808080" fill-opacity="0.9"/>
<polyline points="707.6,66 707.9,88.5 708.3,100 709.5,114.5 711.2,130 712.8,145 715.1,160 717,172.1 721.2,184.2 727,196.3 731.5,208.4 735.1,220.5 740.9,232.6 748.2,244.7 753,252 756.6,259.7 764.8,269.4 772.1,279.1 776,288.7 779.8,298.4 781.6,308.1 782,313" fill="none" stroke="#0000ff" stroke-width="10.4" stroke-linecap="round" stroke-linejoin="round"/>
<circle cx="788.1" cy="315.4" r="5.2" fill="#0000ff" fill-opacity="0.9"/>
<circle cx="790" cy="321.2" r="5.2" fill="#0000ff" fill-opacity="0.9"/>
<circle cx="790.5" cy="326.8" r="5.2" fill="#0000ff" fill-opacity="0.9"/>
<circle cx="794" cy="334.6" r="5.2" fill="#0000ff" fill-opacity="0.9"/>
<circle cx="804.2" cy="341.7" r="5.2" fill="#0000ff" fill-opacity="0.9"/>
<circle cx="814.6" cy="349.9" r="5.2" fill="#0000ff" fill-opacity="0.9"/>
<circle cx="835" cy="359.5" r="5.2" fill="#0000ff" fill-opacity="0.9"/>
<circle cx="881.7" cy="371" r="5.2" fill="#0000ff" fill-opacity="0.9"/>
<circle cx="927.2" cy="384.9" r="5.2" fill="#0000ff" fill-opacity="0.9"/>
<circle cx="943.3" cy="402.5" r="5.2" fill="#0000ff" fill-opacity="0.9"/>
<circle cx="953.3" cy="428.1" r="5.2" fill="#0000ff" fill-opacity="0.9"/>
<circle cx="1069.8" cy="470.9" r="5.2" fill="#0000ff" fill-opacity="0.9"/>
<rect x="685" y="23" width="417" height="469" fill="none" stroke="#000" stroke-width="4" stroke-linejoin="miter"/>
<text x="671" y="54.1" transform="matrix(1 0 0 1.041 0 -2.22)" text-anchor="end" font-size="27.7">10<tspan dx="-0.3" dy="-18.06" font-size="19.8">0</tspan></text>
<text x="671" y="196.8" transform="matrix(1 0 0 1.041 0 -8.07)" text-anchor="end" font-size="27.7">10<tspan dx="-0.3" dy="-18.06" font-size="19.8">−1</tspan></text>
<text x="671" y="339.5" transform="matrix(1 0 0 1.041 0 -13.92)" text-anchor="end" font-size="27.7">10<tspan dx="-0.3" dy="-18.06" font-size="19.8">−2</tspan></text>
<text x="671" y="482.2" transform="matrix(1 0 0 1.041 0 -19.77)" text-anchor="end" font-size="27.7">10<tspan dx="-0.3" dy="-18.06" font-size="19.8">−3</tspan></text>
<text x="707.3" y="528" transform="matrix(1 0 0 1.041 0 -21.65)" text-anchor="middle" font-size="27.7">0.000</text>
<text x="805.95" y="528" transform="matrix(1 0 0 1.041 0 -21.65)" text-anchor="middle" font-size="27.7">0.025</text>
<text x="904.6" y="528" transform="matrix(1 0 0 1.041 0 -21.65)" text-anchor="middle" font-size="27.7">0.050</text>
<text x="1003.25" y="528" transform="matrix(1 0 0 1.041 0 -21.65)" text-anchor="middle" font-size="27.7">0.075</text>
<text x="1101.9" y="528" transform="matrix(1 0 0 1.041 0 -21.65)" text-anchor="middle" font-size="27.7">0.100</text>
<text x="910" y="577.8" transform="matrix(1 0 0 1.041 0 -23.69)" text-anchor="middle" font-size="33.3" font-style="italic">BC</text>
<text transform="translate(596,257.2) rotate(-90) scale(1,1.041)" text-anchor="middle" font-size="33.3"><tspan font-style="italic">Pr</tspan> (<tspan font-style="italic">BC</tspan> <tspan dy="1.92">&gt;</tspan> <tspan dy="-1.92" font-style="italic">bc</tspan>)</text>
<circle cx="731.2" cy="412" r="6.4" fill="#0000ff"/>
<text x="748.4" y="421.3" transform="matrix(1 0 0 1.041 0 -17.27)" font-size="29.5">Ports</text>
<circle cx="731.2" cy="457.3" r="6.4" fill="#808080"/>
<text x="748.3" y="465.8" transform="matrix(1 0 0 1.041 0 -19.1)" font-size="29.5">Random</text>
<line x1="871.9" y1="298" x2="919.7" y2="298" stroke="#ff0000" stroke-width="5.8" stroke-dasharray="12.3 5.5"/>
<line x1="871.9" y1="339.9" x2="919.7" y2="339.9" stroke="#000" stroke-width="6" stroke-dasharray="12.3 5.5"/>
<text x="928.9" y="308.3" transform="matrix(1 0 0 1.041 0 -12.64)" font-size="29.5">Fit <tspan dx="1.7" font-style="italic">x</tspan><tspan dx="-1.2" dy="-11.91" font-size="20.5">−1.171</tspan></text>
<text x="928.9" y="349.8" transform="matrix(1 0 0 1.041 0 -14.34)" font-size="29.5">Fit <tspan dx="1.7" font-style="italic">x</tspan><tspan dx="-1.2" dy="-11.91" font-size="20.5">−1.208</tspan></text>
<rect x="878.7" y="38.4" width="199.9" height="172.2" fill="#fff" stroke="none"/>
<line x1="883.54" y1="209.1" x2="883.54" y2="205.6" stroke="#000" stroke-width="1.8" />
<line x1="883.54" y1="39.9" x2="883.54" y2="43.4" stroke="#000" stroke-width="1.8" />
<line x1="895.88" y1="209.1" x2="895.88" y2="205.6" stroke="#000" stroke-width="1.8" />
<line x1="895.88" y1="39.9" x2="895.88" y2="43.4" stroke="#000" stroke-width="1.8" />
<line x1="905.96" y1="209.1" x2="905.96" y2="205.6" stroke="#000" stroke-width="1.8" />
<line x1="905.96" y1="39.9" x2="905.96" y2="43.4" stroke="#000" stroke-width="1.8" />
<line x1="914.48" y1="209.1" x2="914.48" y2="205.6" stroke="#000" stroke-width="1.8" />
<line x1="914.48" y1="39.9" x2="914.48" y2="43.4" stroke="#000" stroke-width="1.8" />
<line x1="921.86" y1="209.1" x2="921.86" y2="205.6" stroke="#000" stroke-width="1.8" />
<line x1="921.86" y1="39.9" x2="921.86" y2="43.4" stroke="#000" stroke-width="1.8" />
<line x1="928.38" y1="209.1" x2="928.38" y2="205.6" stroke="#000" stroke-width="1.8" />
<line x1="928.38" y1="39.9" x2="928.38" y2="43.4" stroke="#000" stroke-width="1.8" />
<line x1="972.52" y1="209.1" x2="972.52" y2="205.6" stroke="#000" stroke-width="1.8" />
<line x1="972.52" y1="39.9" x2="972.52" y2="43.4" stroke="#000" stroke-width="1.8" />
<line x1="994.94" y1="209.1" x2="994.94" y2="205.6" stroke="#000" stroke-width="1.8" />
<line x1="994.94" y1="39.9" x2="994.94" y2="43.4" stroke="#000" stroke-width="1.8" />
<line x1="1010.84" y1="209.1" x2="1010.84" y2="205.6" stroke="#000" stroke-width="1.8" />
<line x1="1010.84" y1="39.9" x2="1010.84" y2="43.4" stroke="#000" stroke-width="1.8" />
<line x1="1023.18" y1="209.1" x2="1023.18" y2="205.6" stroke="#000" stroke-width="1.8" />
<line x1="1023.18" y1="39.9" x2="1023.18" y2="43.4" stroke="#000" stroke-width="1.8" />
<line x1="1033.26" y1="209.1" x2="1033.26" y2="205.6" stroke="#000" stroke-width="1.8" />
<line x1="1033.26" y1="39.9" x2="1033.26" y2="43.4" stroke="#000" stroke-width="1.8" />
<line x1="1041.78" y1="209.1" x2="1041.78" y2="205.6" stroke="#000" stroke-width="1.8" />
<line x1="1041.78" y1="39.9" x2="1041.78" y2="43.4" stroke="#000" stroke-width="1.8" />
<line x1="1049.16" y1="209.1" x2="1049.16" y2="205.6" stroke="#000" stroke-width="1.8" />
<line x1="1049.16" y1="39.9" x2="1049.16" y2="43.4" stroke="#000" stroke-width="1.8" />
<line x1="1055.68" y1="209.1" x2="1055.68" y2="205.6" stroke="#000" stroke-width="1.8" />
<line x1="1055.68" y1="39.9" x2="1055.68" y2="43.4" stroke="#000" stroke-width="1.8" />
<line x1="934.2" y1="209.1" x2="934.2" y2="202.3" stroke="#000" stroke-width="2.3" />
<line x1="934.2" y1="39.9" x2="934.2" y2="46.7" stroke="#000" stroke-width="2.3" />
<line x1="1061.5" y1="209.1" x2="1061.5" y2="202.3" stroke="#000" stroke-width="2.3" />
<line x1="1061.5" y1="39.9" x2="1061.5" y2="46.7" stroke="#000" stroke-width="2.3" />
<line x1="880.2" y1="108.58" x2="883.7" y2="108.58" stroke="#000" stroke-width="1.8" />
<line x1="1077.1" y1="108.58" x2="1073.6" y2="108.58" stroke="#000" stroke-width="1.8" />
<line x1="880.2" y1="95.81" x2="883.7" y2="95.81" stroke="#000" stroke-width="1.8" />
<line x1="1077.1" y1="95.81" x2="1073.6" y2="95.81" stroke="#000" stroke-width="1.8" />
<line x1="880.2" y1="86.75" x2="883.7" y2="86.75" stroke="#000" stroke-width="1.8" />
<line x1="1077.1" y1="86.75" x2="1073.6" y2="86.75" stroke="#000" stroke-width="1.8" />
<line x1="880.2" y1="79.72" x2="883.7" y2="79.72" stroke="#000" stroke-width="1.8" />
<line x1="1077.1" y1="79.72" x2="1073.6" y2="79.72" stroke="#000" stroke-width="1.8" />
<line x1="880.2" y1="73.98" x2="883.7" y2="73.98" stroke="#000" stroke-width="1.8" />
<line x1="1077.1" y1="73.98" x2="1073.6" y2="73.98" stroke="#000" stroke-width="1.8" />
<line x1="880.2" y1="69.13" x2="883.7" y2="69.13" stroke="#000" stroke-width="1.8" />
<line x1="1077.1" y1="69.13" x2="1073.6" y2="69.13" stroke="#000" stroke-width="1.8" />
<line x1="880.2" y1="64.93" x2="883.7" y2="64.93" stroke="#000" stroke-width="1.8" />
<line x1="1077.1" y1="64.93" x2="1073.6" y2="64.93" stroke="#000" stroke-width="1.8" />
<line x1="880.2" y1="61.22" x2="883.7" y2="61.22" stroke="#000" stroke-width="1.8" />
<line x1="1077.1" y1="61.22" x2="1073.6" y2="61.22" stroke="#000" stroke-width="1.8" />
<line x1="880.2" y1="181.08" x2="883.7" y2="181.08" stroke="#000" stroke-width="1.8" />
<line x1="1077.1" y1="181.08" x2="1073.6" y2="181.08" stroke="#000" stroke-width="1.8" />
<line x1="880.2" y1="168.31" x2="883.7" y2="168.31" stroke="#000" stroke-width="1.8" />
<line x1="1077.1" y1="168.31" x2="1073.6" y2="168.31" stroke="#000" stroke-width="1.8" />
<line x1="880.2" y1="159.25" x2="883.7" y2="159.25" stroke="#000" stroke-width="1.8" />
<line x1="1077.1" y1="159.25" x2="1073.6" y2="159.25" stroke="#000" stroke-width="1.8" />
<line x1="880.2" y1="152.22" x2="883.7" y2="152.22" stroke="#000" stroke-width="1.8" />
<line x1="1077.1" y1="152.22" x2="1073.6" y2="152.22" stroke="#000" stroke-width="1.8" />
<line x1="880.2" y1="146.48" x2="883.7" y2="146.48" stroke="#000" stroke-width="1.8" />
<line x1="1077.1" y1="146.48" x2="1073.6" y2="146.48" stroke="#000" stroke-width="1.8" />
<line x1="880.2" y1="141.63" x2="883.7" y2="141.63" stroke="#000" stroke-width="1.8" />
<line x1="1077.1" y1="141.63" x2="1073.6" y2="141.63" stroke="#000" stroke-width="1.8" />
<line x1="880.2" y1="137.43" x2="883.7" y2="137.43" stroke="#000" stroke-width="1.8" />
<line x1="1077.1" y1="137.43" x2="1073.6" y2="137.43" stroke="#000" stroke-width="1.8" />
<line x1="880.2" y1="133.72" x2="883.7" y2="133.72" stroke="#000" stroke-width="1.8" />
<line x1="1077.1" y1="133.72" x2="1073.6" y2="133.72" stroke="#000" stroke-width="1.8" />
<line x1="880.2" y1="206.22" x2="883.7" y2="206.22" stroke="#000" stroke-width="1.8" />
<line x1="1077.1" y1="206.22" x2="1073.6" y2="206.22" stroke="#000" stroke-width="1.8" />
<line x1="880.2" y1="57.9" x2="887" y2="57.9" stroke="#000" stroke-width="2.3" />
<line x1="1077.1" y1="57.9" x2="1070.3" y2="57.9" stroke="#000" stroke-width="2.3" />
<line x1="880.2" y1="130.4" x2="887" y2="130.4" stroke="#000" stroke-width="2.3" />
<line x1="1077.1" y1="130.4" x2="1070.3" y2="130.4" stroke="#000" stroke-width="2.3" />
<line x1="880.2" y1="202.9" x2="887" y2="202.9" stroke="#000" stroke-width="2.3" />
<line x1="1077.1" y1="202.9" x2="1070.3" y2="202.9" stroke="#000" stroke-width="2.3" />
<polyline points="887,71 896.8,76.4 907.7,84 918.6,89.5 929.5,97.1 940.4,102.5 949.1,106.9 952.5,110 956.8,116.2 961.9,123.8" fill="none" stroke="#808080" stroke-width="8.5" stroke-linecap="round" stroke-linejoin="round"/>
<circle cx="970.3" cy="128.9" r="4.25" fill="#808080" fill-opacity="0.9"/>
<circle cx="977.1" cy="138.2" r="4.25" fill="#808080" fill-opacity="0.9"/>
<circle cx="994.1" cy="145.8" r="4.25" fill="#808080" fill-opacity="0.9"/>
<circle cx="1001.7" cy="151.8" r="4.25" fill="#808080" fill-opacity="0.9"/>
<circle cx="1003.4" cy="158.6" r="4.25" fill="#808080" fill-opacity="0.9"/>
<circle cx="1013.6" cy="168" r="4.25" fill="#808080" fill-opacity="0.9"/>
<circle cx="1018.8" cy="180.7" r="4.25" fill="#808080" fill-opacity="0.9"/>
<circle cx="1027.3" cy="202.5" r="4.25" fill="#808080" fill-opacity="0.9"/>
<polyline points="889.2,60.1 896.8,64.4 905.5,68.8 914.2,74.2 922.9,78.6 931.6,84 940.4,89.5 950,96.5 958.5,102.6 964.4,107.7 968.2,114.5 970.3,120.4 974.6,124.7 976.3,130.6 978,135.7" fill="none" stroke="#0000ff" stroke-width="8.5" stroke-linecap="round" stroke-linejoin="round"/>
<circle cx="983.9" cy="136.5" r="4.25" fill="#0000ff" fill-opacity="0.9"/>
<circle cx="989.8" cy="141.2" r="4.25" fill="#0000ff" fill-opacity="0.9"/>
<circle cx="999.2" cy="145.8" r="4.25" fill="#0000ff" fill-opacity="0.9"/>
<circle cx="1016.6" cy="151.8" r="4.25" fill="#0000ff" fill-opacity="0.9"/>
<circle cx="1029.5" cy="158.9" r="4.25" fill="#0000ff" fill-opacity="0.9"/>
<circle cx="1033.4" cy="168" r="4.25" fill="#0000ff" fill-opacity="0.9"/>
<circle cx="1035.7" cy="180.7" r="4.25" fill="#0000ff" fill-opacity="0.9"/>
<circle cx="1057.2" cy="202.5" r="4.25" fill="#0000ff" fill-opacity="0.9"/>
<line x1="889.5" y1="45.5" x2="1070" y2="165.5" stroke="#ff0000" stroke-width="4.5" stroke-dasharray="16 7"/>
<line x1="887.3" y1="101.1" x2="1027.5" y2="196" stroke="#000" stroke-width="4.5" stroke-dasharray="15.5 7.3"/>
<rect x="878.7" y="38.4" width="199.9" height="172.2" fill="none" stroke="#000" stroke-width="3" stroke-linejoin="miter"/>
<text x="870" y="69.9" transform="matrix(1 0 0 1.041 0 -2.87)" text-anchor="end" font-size="22">10<tspan dx="-0.2" dy="-14.41" font-size="15">−1</tspan></text>
<text x="870" y="142.4" transform="matrix(1 0 0 1.041 0 -5.84)" text-anchor="end" font-size="22">10<tspan dx="-0.2" dy="-14.41" font-size="15">−2</tspan></text>
<text x="870" y="214.9" transform="matrix(1 0 0 1.041 0 -8.81)" text-anchor="end" font-size="22">10<tspan dx="-0.2" dy="-14.41" font-size="15">−3</tspan></text>
<text x="934.2" y="241.8" transform="matrix(1 0 0 1.041 0 -9.91)" text-anchor="middle" font-size="22">10<tspan dx="-0.2" dy="-14.41" font-size="15">−2</tspan></text>
<text x="1061.5" y="241.8" transform="matrix(1 0 0 1.041 0 -9.91)" text-anchor="middle" font-size="22">10<tspan dx="-0.2" dy="-14.41" font-size="15">−1</tspan></text>
<text x="979.4" y="262.8" transform="matrix(1 0 0 1.041 0 -10.77)" text-anchor="middle" font-size="29.5" font-style="italic">BC</text>
<text transform="translate(808.5,127.9) rotate(-90) scale(1,1.041)" text-anchor="middle" font-size="29.5"><tspan font-style="italic">Pr</tspan> (<tspan font-style="italic">BC</tspan> <tspan dy="1.92">&gt;</tspan> <tspan dy="-1.92" font-style="italic">bc</tspan>)</text>
<line x1="1330.42" y1="490" x2="1330.42" y2="484.1" stroke="#000" stroke-width="2.4" />
<line x1="1330.42" y1="25" x2="1330.42" y2="30.9" stroke="#000" stroke-width="2.4" />
<line x1="1350.74" y1="490" x2="1350.74" y2="484.1" stroke="#000" stroke-width="2.4" />
<line x1="1350.74" y1="25" x2="1350.74" y2="30.9" stroke="#000" stroke-width="2.4" />
<line x1="1371.06" y1="490" x2="1371.06" y2="484.1" stroke="#000" stroke-width="2.4" />
<line x1="1371.06" y1="25" x2="1371.06" y2="30.9" stroke="#000" stroke-width="2.4" />
<line x1="1391.38" y1="490" x2="1391.38" y2="484.1" stroke="#000" stroke-width="2.4" />
<line x1="1391.38" y1="25" x2="1391.38" y2="30.9" stroke="#000" stroke-width="2.4" />
<line x1="1432.02" y1="490" x2="1432.02" y2="484.1" stroke="#000" stroke-width="2.4" />
<line x1="1432.02" y1="25" x2="1432.02" y2="30.9" stroke="#000" stroke-width="2.4" />
<line x1="1452.34" y1="490" x2="1452.34" y2="484.1" stroke="#000" stroke-width="2.4" />
<line x1="1452.34" y1="25" x2="1452.34" y2="30.9" stroke="#000" stroke-width="2.4" />
<line x1="1472.66" y1="490" x2="1472.66" y2="484.1" stroke="#000" stroke-width="2.4" />
<line x1="1472.66" y1="25" x2="1472.66" y2="30.9" stroke="#000" stroke-width="2.4" />
<line x1="1492.98" y1="490" x2="1492.98" y2="484.1" stroke="#000" stroke-width="2.4" />
<line x1="1492.98" y1="25" x2="1492.98" y2="30.9" stroke="#000" stroke-width="2.4" />
<line x1="1533.62" y1="490" x2="1533.62" y2="484.1" stroke="#000" stroke-width="2.4" />
<line x1="1533.62" y1="25" x2="1533.62" y2="30.9" stroke="#000" stroke-width="2.4" />
<line x1="1553.94" y1="490" x2="1553.94" y2="484.1" stroke="#000" stroke-width="2.4" />
<line x1="1553.94" y1="25" x2="1553.94" y2="30.9" stroke="#000" stroke-width="2.4" />
<line x1="1574.26" y1="490" x2="1574.26" y2="484.1" stroke="#000" stroke-width="2.4" />
<line x1="1574.26" y1="25" x2="1574.26" y2="30.9" stroke="#000" stroke-width="2.4" />
<line x1="1594.58" y1="490" x2="1594.58" y2="484.1" stroke="#000" stroke-width="2.4" />
<line x1="1594.58" y1="25" x2="1594.58" y2="30.9" stroke="#000" stroke-width="2.4" />
<line x1="1635.22" y1="490" x2="1635.22" y2="484.1" stroke="#000" stroke-width="2.4" />
<line x1="1635.22" y1="25" x2="1635.22" y2="30.9" stroke="#000" stroke-width="2.4" />
<line x1="1655.54" y1="490" x2="1655.54" y2="484.1" stroke="#000" stroke-width="2.4" />
<line x1="1655.54" y1="25" x2="1655.54" y2="30.9" stroke="#000" stroke-width="2.4" />
<line x1="1675.86" y1="490" x2="1675.86" y2="484.1" stroke="#000" stroke-width="2.4" />
<line x1="1675.86" y1="25" x2="1675.86" y2="30.9" stroke="#000" stroke-width="2.4" />
<line x1="1696.18" y1="490" x2="1696.18" y2="484.1" stroke="#000" stroke-width="2.4" />
<line x1="1696.18" y1="25" x2="1696.18" y2="30.9" stroke="#000" stroke-width="2.4" />
<line x1="1411.7" y1="490" x2="1411.7" y2="478.2" stroke="#000" stroke-width="3.2" />
<line x1="1411.7" y1="25" x2="1411.7" y2="36.8" stroke="#000" stroke-width="3.2" />
<line x1="1513.3" y1="490" x2="1513.3" y2="478.2" stroke="#000" stroke-width="3.2" />
<line x1="1513.3" y1="25" x2="1513.3" y2="36.8" stroke="#000" stroke-width="3.2" />
<line x1="1614.9" y1="490" x2="1614.9" y2="478.2" stroke="#000" stroke-width="3.2" />
<line x1="1614.9" y1="25" x2="1614.9" y2="36.8" stroke="#000" stroke-width="3.2" />
<line x1="1716.5" y1="490" x2="1716.5" y2="478.2" stroke="#000" stroke-width="3.2" />
<line x1="1716.5" y1="25" x2="1716.5" y2="36.8" stroke="#000" stroke-width="3.2" />
<line x1="1311.7" y1="144.24" x2="1317.6" y2="144.24" stroke="#000" stroke-width="2.4" />
<line x1="1724.8" y1="144.24" x2="1718.9" y2="144.24" stroke="#000" stroke-width="2.4" />
<line x1="1311.7" y1="119.11" x2="1317.6" y2="119.11" stroke="#000" stroke-width="2.4" />
<line x1="1724.8" y1="119.11" x2="1718.9" y2="119.11" stroke="#000" stroke-width="2.4" />
<line x1="1311.7" y1="101.29" x2="1317.6" y2="101.29" stroke="#000" stroke-width="2.4" />
<line x1="1724.8" y1="101.29" x2="1718.9" y2="101.29" stroke="#000" stroke-width="2.4" />
<line x1="1311.7" y1="87.46" x2="1317.6" y2="87.46" stroke="#000" stroke-width="2.4" />
<line x1="1724.8" y1="87.46" x2="1718.9" y2="87.46" stroke="#000" stroke-width="2.4" />
<line x1="1311.7" y1="76.16" x2="1317.6" y2="76.16" stroke="#000" stroke-width="2.4" />
<line x1="1724.8" y1="76.16" x2="1718.9" y2="76.16" stroke="#000" stroke-width="2.4" />
<line x1="1311.7" y1="66.6" x2="1317.6" y2="66.6" stroke="#000" stroke-width="2.4" />
<line x1="1724.8" y1="66.6" x2="1718.9" y2="66.6" stroke="#000" stroke-width="2.4" />
<line x1="1311.7" y1="58.33" x2="1317.6" y2="58.33" stroke="#000" stroke-width="2.4" />
<line x1="1724.8" y1="58.33" x2="1718.9" y2="58.33" stroke="#000" stroke-width="2.4" />
<line x1="1311.7" y1="51.03" x2="1317.6" y2="51.03" stroke="#000" stroke-width="2.4" />
<line x1="1724.8" y1="51.03" x2="1718.9" y2="51.03" stroke="#000" stroke-width="2.4" />
<line x1="1311.7" y1="286.94" x2="1317.6" y2="286.94" stroke="#000" stroke-width="2.4" />
<line x1="1724.8" y1="286.94" x2="1718.9" y2="286.94" stroke="#000" stroke-width="2.4" />
<line x1="1311.7" y1="261.81" x2="1317.6" y2="261.81" stroke="#000" stroke-width="2.4" />
<line x1="1724.8" y1="261.81" x2="1718.9" y2="261.81" stroke="#000" stroke-width="2.4" />
<line x1="1311.7" y1="243.99" x2="1317.6" y2="243.99" stroke="#000" stroke-width="2.4" />
<line x1="1724.8" y1="243.99" x2="1718.9" y2="243.99" stroke="#000" stroke-width="2.4" />
<line x1="1311.7" y1="230.16" x2="1317.6" y2="230.16" stroke="#000" stroke-width="2.4" />
<line x1="1724.8" y1="230.16" x2="1718.9" y2="230.16" stroke="#000" stroke-width="2.4" />
<line x1="1311.7" y1="218.86" x2="1317.6" y2="218.86" stroke="#000" stroke-width="2.4" />
<line x1="1724.8" y1="218.86" x2="1718.9" y2="218.86" stroke="#000" stroke-width="2.4" />
<line x1="1311.7" y1="209.3" x2="1317.6" y2="209.3" stroke="#000" stroke-width="2.4" />
<line x1="1724.8" y1="209.3" x2="1718.9" y2="209.3" stroke="#000" stroke-width="2.4" />
<line x1="1311.7" y1="201.03" x2="1317.6" y2="201.03" stroke="#000" stroke-width="2.4" />
<line x1="1724.8" y1="201.03" x2="1718.9" y2="201.03" stroke="#000" stroke-width="2.4" />
<line x1="1311.7" y1="193.73" x2="1317.6" y2="193.73" stroke="#000" stroke-width="2.4" />
<line x1="1724.8" y1="193.73" x2="1718.9" y2="193.73" stroke="#000" stroke-width="2.4" />
<line x1="1311.7" y1="429.64" x2="1317.6" y2="429.64" stroke="#000" stroke-width="2.4" />
<line x1="1724.8" y1="429.64" x2="1718.9" y2="429.64" stroke="#000" stroke-width="2.4" />
<line x1="1311.7" y1="404.51" x2="1317.6" y2="404.51" stroke="#000" stroke-width="2.4" />
<line x1="1724.8" y1="404.51" x2="1718.9" y2="404.51" stroke="#000" stroke-width="2.4" />
<line x1="1311.7" y1="386.69" x2="1317.6" y2="386.69" stroke="#000" stroke-width="2.4" />
<line x1="1724.8" y1="386.69" x2="1718.9" y2="386.69" stroke="#000" stroke-width="2.4" />
<line x1="1311.7" y1="372.86" x2="1317.6" y2="372.86" stroke="#000" stroke-width="2.4" />
<line x1="1724.8" y1="372.86" x2="1718.9" y2="372.86" stroke="#000" stroke-width="2.4" />
<line x1="1311.7" y1="361.56" x2="1317.6" y2="361.56" stroke="#000" stroke-width="2.4" />
<line x1="1724.8" y1="361.56" x2="1718.9" y2="361.56" stroke="#000" stroke-width="2.4" />
<line x1="1311.7" y1="352" x2="1317.6" y2="352" stroke="#000" stroke-width="2.4" />
<line x1="1724.8" y1="352" x2="1718.9" y2="352" stroke="#000" stroke-width="2.4" />
<line x1="1311.7" y1="343.73" x2="1317.6" y2="343.73" stroke="#000" stroke-width="2.4" />
<line x1="1724.8" y1="343.73" x2="1718.9" y2="343.73" stroke="#000" stroke-width="2.4" />
<line x1="1311.7" y1="336.43" x2="1317.6" y2="336.43" stroke="#000" stroke-width="2.4" />
<line x1="1724.8" y1="336.43" x2="1718.9" y2="336.43" stroke="#000" stroke-width="2.4" />
<line x1="1311.7" y1="486.43" x2="1317.6" y2="486.43" stroke="#000" stroke-width="2.4" />
<line x1="1724.8" y1="486.43" x2="1718.9" y2="486.43" stroke="#000" stroke-width="2.4" />
<line x1="1311.7" y1="479.13" x2="1317.6" y2="479.13" stroke="#000" stroke-width="2.4" />
<line x1="1724.8" y1="479.13" x2="1718.9" y2="479.13" stroke="#000" stroke-width="2.4" />
<line x1="1311.7" y1="44.5" x2="1323.5" y2="44.5" stroke="#000" stroke-width="3.2" />
<line x1="1724.8" y1="44.5" x2="1713" y2="44.5" stroke="#000" stroke-width="3.2" />
<line x1="1311.7" y1="187.2" x2="1323.5" y2="187.2" stroke="#000" stroke-width="3.2" />
<line x1="1724.8" y1="187.2" x2="1713" y2="187.2" stroke="#000" stroke-width="3.2" />
<line x1="1311.7" y1="329.9" x2="1323.5" y2="329.9" stroke="#000" stroke-width="3.2" />
<line x1="1724.8" y1="329.9" x2="1713" y2="329.9" stroke="#000" stroke-width="3.2" />
<line x1="1311.7" y1="472.6" x2="1323.5" y2="472.6" stroke="#000" stroke-width="3.2" />
<line x1="1724.8" y1="472.6" x2="1713" y2="472.6" stroke="#000" stroke-width="3.2" />
<circle cx="1443" cy="44.9" r="5.2" fill="#808080" fill-opacity="0.9"/>
<circle cx="1462.9" cy="45.4" r="5.2" fill="#808080" fill-opacity="0.9"/>
<polyline points="1474.7,47.3 1484.1,49 1492.5,51.5 1501,54 1509.5,57 1516.3,60 1523,63.3 1533.2,69.3 1543.4,76.3 1553.6,84.6 1564.5,93.4 1573.7,104.9 1580.6,117.5 1588.7,129 1595.6,140.5 1601.3,153.2 1607.1,163.5 1612.8,179.6 1618.6,195.7 1624.3,209.5 1630.1,223.3 1636.6,242.6 1642.9,261.4 1652.3,280.3 1655.5,292.9 1658.6,308.6 1664.9,321.2 1669.6,325.9 1671.2,333.8 1671.2,341.6" fill="none" stroke="#808080" stroke-width="10.4" stroke-linecap="round" stroke-linejoin="round"/>
<circle cx="1679.1" cy="350.1" r="5.2" fill="#808080" fill-opacity="0.9"/>
<circle cx="1683.1" cy="359.6" r="5.2" fill="#808080" fill-opacity="0.9"/>
<circle cx="1688.5" cy="371.5" r="5.2" fill="#808080" fill-opacity="0.9"/>
<circle cx="1690.1" cy="384.7" r="5.2" fill="#808080" fill-opacity="0.9"/>
<circle cx="1698.9" cy="403" r="5.2" fill="#808080" fill-opacity="0.9"/>
<circle cx="1703.9" cy="428.1" r="5.2" fill="#808080" fill-opacity="0.9"/>
<circle cx="1712.1" cy="471.2" r="5.2" fill="#808080" fill-opacity="0.9"/>
<circle cx="1359.5" cy="44.4" r="5.2" fill="#0000ff" fill-opacity="0.9"/>
<circle cx="1363.3" cy="44.4" r="5.2" fill="#0000ff" fill-opacity="0.9"/>
<polyline points="1383.7,44.6 1394.5,45.9 1409,48.6 1423.6,50.6 1438.1,54.2 1452.6,60.1 1467.1,64.6 1478,69 1485.3,74.8 1490.5,83 1495.9,97.8 1501,109.7 1509,121.5 1513,130 1519.5,138.5 1524.7,145.3 1534.9,150.3 1545.1,153.7 1555.3,160.5 1560,165.6 1569.1,175 1577.2,186.5 1582.9,198 1588.7,208.4 1594.4,216.4 1600.2,221 1603.6,232.5 1608.3,245.7 1611.4,258.3 1619.3,270.9 1627.2,280.3 1631.9,289.7 1635,302.3 1636.6,311.8" fill="none" stroke="#0000ff" stroke-width="10.4" stroke-linecap="round" stroke-linejoin="round"/>
<circle cx="1641.3" cy="318" r="5.2" fill="#0000ff" fill-opacity="0.9"/>
<circle cx="1644.5" cy="327.5" r="5.2" fill="#0000ff" fill-opacity="0.9"/>
<circle cx="1653.9" cy="333.8" r="5.2" fill="#0000ff" fill-opacity="0.9"/>
<circle cx="1658.6" cy="341.6" r="5.2" fill="#0000ff" fill-opacity="0.9"/>
<circle cx="1666.5" cy="350.1" r="5.2" fill="#0000ff" fill-opacity="0.9"/>
<circle cx="1671.2" cy="371.5" r="5.2" fill="#0000ff" fill-opacity="0.9"/>
<circle cx="1673.7" cy="384.7" r="5.2" fill="#0000ff" fill-opacity="0.9"/>
<circle cx="1683.1" cy="402.3" r="5.2" fill="#0000ff" fill-opacity="0.9"/>
<circle cx="1689.4" cy="428.1" r="5.2" fill="#0000ff" fill-opacity="0.9"/>
<circle cx="1692.6" cy="470.9" r="5.2" fill="#0000ff" fill-opacity="0.9"/>
<rect x="1309.7" y="23" width="417.1" height="469" fill="none" stroke="#000" stroke-width="4" stroke-linejoin="miter"/>
<text x="1296" y="55.1" transform="matrix(1 0 0 1.041 0 -2.26)" text-anchor="end" font-size="27.7">10<tspan dx="-0.3" dy="-18.06" font-size="19.8">0</tspan></text>
<text x="1296" y="197.8" transform="matrix(1 0 0 1.041 0 -8.11)" text-anchor="end" font-size="27.7">10<tspan dx="-0.3" dy="-18.06" font-size="19.8">−1</tspan></text>
<text x="1296" y="340.5" transform="matrix(1 0 0 1.041 0 -13.96)" text-anchor="end" font-size="27.7">10<tspan dx="-0.3" dy="-18.06" font-size="19.8">−2</tspan></text>
<text x="1296" y="483.2" transform="matrix(1 0 0 1.041 0 -19.81)" text-anchor="end" font-size="27.7">10<tspan dx="-0.3" dy="-18.06" font-size="19.8">−3</tspan></text>
<text x="1310.1" y="530.2" transform="matrix(1 0 0 1.041 0 -21.74)" text-anchor="middle" font-size="27.7">0.2</text>
<text x="1411.7" y="530.2" transform="matrix(1 0 0 1.041 0 -21.74)" text-anchor="middle" font-size="27.7">0.3</text>
<text x="1513.3" y="530.2" transform="matrix(1 0 0 1.041 0 -21.74)" text-anchor="middle" font-size="27.7">0.4</text>
<text x="1614.9" y="530.2" transform="matrix(1 0 0 1.041 0 -21.74)" text-anchor="middle" font-size="27.7">0.5</text>
<text x="1716.5" y="530.2" transform="matrix(1 0 0 1.041 0 -21.74)" text-anchor="middle" font-size="27.7">0.6</text>
<text x="1516" y="576.5" transform="matrix(1 0 0 1.041 0 -23.64)" text-anchor="middle" font-size="33.3" font-style="italic">CC</text>
<text transform="translate(1216,257.5) rotate(-90) scale(1,1.041)" text-anchor="middle" font-size="33.3"><tspan font-style="italic">Pr</tspan> (<tspan font-style="italic">CC</tspan> <tspan dy="1.92">&gt;</tspan> <tspan dy="-1.92" font-style="italic">cc</tspan>)</text>
<circle cx="1352.7" cy="409.7" r="6.35" fill="#0000ff"/>
<text x="1371.7" y="418.8" transform="matrix(1 0 0 1.041 0 -17.17)" font-size="29.5">Ports</text>
<circle cx="1352.7" cy="454.5" r="6.35" fill="#808080"/>
<text x="1371.6" y="463.6" transform="matrix(1 0 0 1.041 0 -19.01)" font-size="29.5">Random</text>
<rect x="72.5" y="668.3" width="1590.5" height="79" fill="#d6dce4"/>
<rect x="72.5" y="747.3" width="1590.5" height="77.2" fill="#f2f2f2"/>
<line x1="72.5" y1="668.3" x2="72.5" y2="824.5" stroke="#808080" stroke-width="2.7" />
<line x1="390.6" y1="668.3" x2="390.6" y2="824.5" stroke="#808080" stroke-width="2.7" />
<line x1="708.5" y1="668.3" x2="708.5" y2="824.5" stroke="#808080" stroke-width="2.7" />
<line x1="1026" y1="668.3" x2="1026" y2="824.5" stroke="#808080" stroke-width="2.7" />
<line x1="1344.3" y1="668.3" x2="1344.3" y2="824.5" stroke="#808080" stroke-width="2.7" />
<line x1="1663" y1="668.3" x2="1663" y2="824.5" stroke="#808080" stroke-width="2.7" />
<line x1="71.15" y1="668.3" x2="1664.35" y2="668.3" stroke="#808080" stroke-width="2.7" />
<line x1="71.15" y1="747.3" x2="1664.35" y2="747.3" stroke="#808080" stroke-width="2.7" />
<line x1="71.15" y1="824.5" x2="1664.35" y2="824.5" stroke="#808080" stroke-width="2.7" />
<text x="199" y="719.3" transform="matrix(1 0 0 1.041 0 -29.49)" font-size="33.0">&lt;</text>
<text x="223.08" y="717.1" transform="matrix(1 0 0 1.041 0 -29.4)" font-size="33.0" font-style="italic">K</text>
<text x="244.4" y="719.3" transform="matrix(1 0 0 1.041 0 -29.49)" font-size="33.0">&gt;</text>
<text x="519.5" y="719.3" transform="matrix(1 0 0 1.041 0 -29.49)" font-size="33.0">&lt;</text>
<text x="543.3" y="717.1" transform="matrix(1 0 0 1.041 0 -29.4)" font-size="33.0" font-style="italic">L</text>
<text x="561.4" y="719.3" transform="matrix(1 0 0 1.041 0 -29.49)" font-size="33.0">&gt;</text>
<text x="834.4" y="719.3" transform="matrix(1 0 0 1.041 0 -29.49)" font-size="33.0">&lt;</text>
<text x="857.8" y="717.1" transform="matrix(1 0 0 1.041 0 -29.4)" font-size="33.0" font-style="italic">C</text>
<text x="881.5" y="719.3" transform="matrix(1 0 0 1.041 0 -29.49)" font-size="33.0">&gt;</text>
<text x="1177" y="716.8" transform="matrix(1 0 0 1.041 0 -29.39)" text-anchor="middle" font-size="33.0">LCP-corr</text>
<text x="1494.1" y="714.7" transform="matrix(1 0 0 1.041 0 -29.3)" text-anchor="middle" font-size="33.0">Assortativity</text>
<text x="231.55" y="798" transform="matrix(1 0 0 1.041 0 -32.72)" text-anchor="middle" font-size="33.0">34.145</text>
<text x="549.55" y="798" transform="matrix(1 0 0 1.041 0 -32.72)" text-anchor="middle" font-size="33.0">2.671</text>
<text x="867.25" y="798" transform="matrix(1 0 0 1.041 0 -32.72)" text-anchor="middle" font-size="33.0">0.713</text>
<text x="1185.15" y="798" transform="matrix(1 0 0 1.041 0 -32.72)" text-anchor="middle" font-size="33.0">0.975</text>
<text x="1506.45" y="798" transform="matrix(1 0 0 1.041 0 -32.72)" text-anchor="middle" font-size="33.0">–0.024</text>
</svg></body></html>
